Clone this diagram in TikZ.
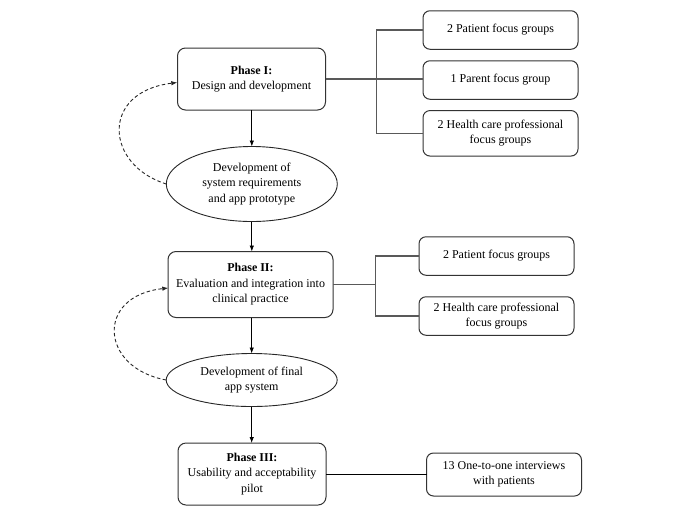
\documentclass[tikz,border=0pt]{standalone}
\usepackage{fontspec}
\setmainfont{Liberation Serif}
\usetikzlibrary{shapes.geometric,arrows.meta}
\tikzset{
  every node/.style={font=\fontsize{12}{15.5}\selectfont, align=center, inner sep=0pt, outer sep=0pt},
  phasebox/.style={draw=black!80, line width=1pt, rounded corners=8pt},
  sidebox/.style={draw=black!80, line width=1pt, rounded corners=7pt, minimum width=155pt},
  devell/.style={draw=black!85, line width=0.9pt, ellipse},
  flow/.style={draw=black, line width=0.8pt, -{Latex[length=6pt,width=4.5pt]}},
  fb/.style={draw=black!85, line width=0.9pt, dashed, dash pattern=on 3.5pt off 2.5pt, -{Latex[length=6pt,width=4.5pt]}},
  brk/.style={draw=black!65, line width=1.4pt},
  plain/.style={draw=black, line width=0.9pt}
}
\begin{document}
\begin{tikzpicture}[x=1pt,y=-1pt]
\useasboundingbox (0,0) rectangle (698,512);
% main column
\node[phasebox, minimum width=148pt, minimum height=62pt] (P1) at (251.5,79) {\textbf{Phase I:}\\Design and development};
\node[devell, minimum width=171pt, minimum height=75pt] (E1) at (251.8,184) {Development of\\system requirements\\and app prototype};
\node[phasebox, minimum width=165pt, minimum height=66pt] (P2) at (250.5,284.5) {\textbf{Phase II:}\\Evaluation and integration into\\clinical practice};
\node[devell, minimum width=171pt, minimum height=53pt] (E2) at (251.7,380) {Development of final\\app system};
\node[phasebox, minimum width=148pt, minimum height=62pt] (P3) at (252,474) {\textbf{Phase III:}\\Usability and acceptability\\pilot};
% side boxes
\node[sidebox, minimum height=38.5pt] (R1a) at (500.5,30) {2 Patient focus groups};
\node[sidebox, minimum height=38.5pt] (R1b) at (500.5,80) {1 Parent focus group};
\node[sidebox, minimum height=45.5pt] (R1c) at (500.5,133.3) {2 Health care professional\\focus groups};
\node[sidebox, minimum height=38.5pt] (R2a) at (496.5,256) {2 Patient focus groups};
\node[sidebox, minimum height=38.5pt] (R2b) at (496.5,316) {2 Health care professional\\focus groups};
\node[sidebox, minimum height=43pt] (R3) at (504,474.5) {13 One-to-one interviews\\with patients};
% brackets
\coordinate (B1) at (376.7,79);
\coordinate (B2) at (375.7,285);
\draw[brk] (P1.east) -- (P1.east -| R1b.west);
\draw[brk] (R1a.west) -| (B1) |- (R1c.west);
\draw[brk] (P2.east) -- (P2.east -| B2);
\draw[brk] (R2a.west) -| (B2) |- (R2b.west);
\draw[plain] (P3.east) -- (P3.east -| R3.west);
% flow arrows
\draw[flow] (P1.south -| E1.north) -- (E1.north);
\draw[flow] (E1.south) -- (E1.south |- P2.north);
\draw[flow] (P2.south -| E2.north) -- (E2.north);
\draw[flow] (E2.south) -- (E2.south |- P3.north);
% feedback loops
\coordinate (F1) at (177.3,82.5);
\coordinate (F2) at (168.3,288);
\draw[fb] (E1.west) .. controls (105,165) and (100,92) .. (F1);
\draw[fb] (E2.west) .. controls (100,368) and (95,296) .. (F2);
\end{tikzpicture}
\end{document}
